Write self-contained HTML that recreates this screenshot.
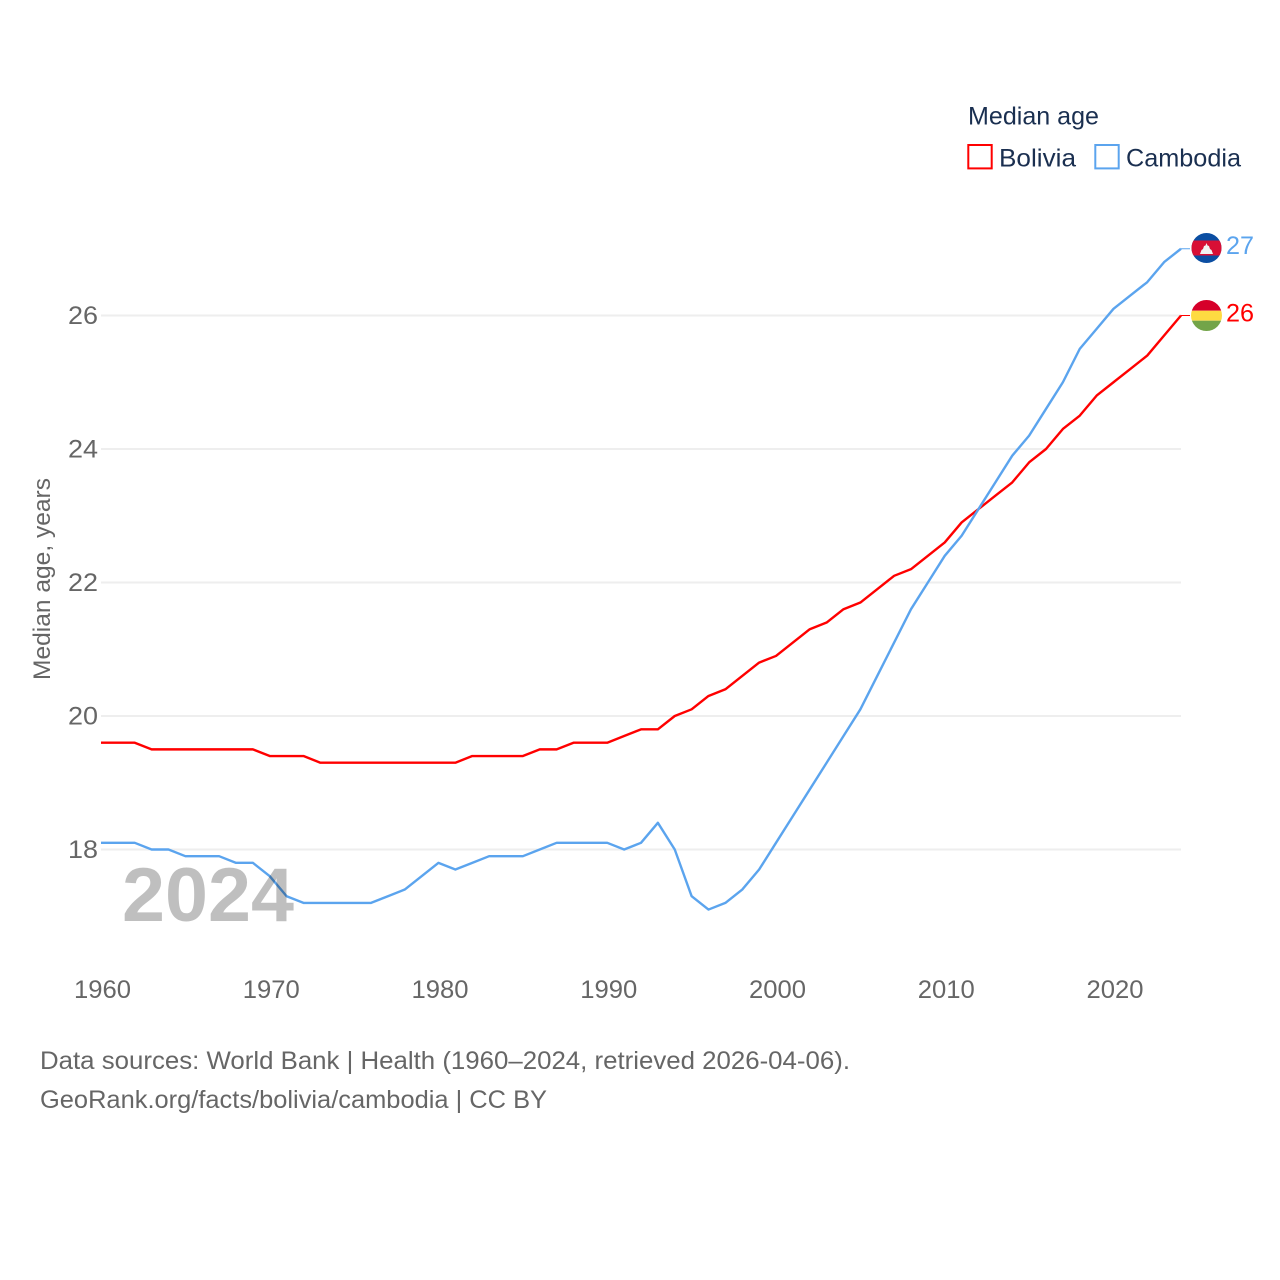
<!DOCTYPE html>
<html lang="en">
<head>
<meta charset="utf-8">
<title>Median age: Bolivia and Cambodia</title>
<style>
html,body{margin:0;padding:0;background:#fff;width:1280px;height:1280px;overflow:hidden}
svg{display:block}
text{font-family:"Liberation Sans",sans-serif}
</style>
</head>
<body>
<svg id="chart" width="1280" height="1280" viewBox="0 0 1280 1280" xmlns="http://www.w3.org/2000/svg">
  <rect x="0" y="0" width="1280" height="1280" fill="#fff"/>
  <g id="grid"></g>
  <g id="yticks"></g>
  <g id="xticks"></g>
  <text transform="translate(50,680) rotate(-90)" font-size="24" fill="#666" textLength="202" lengthAdjust="spacingAndGlyphs">Median age, years</text>
  <g id="series"></g>
  <text x="122" y="921" font-size="76" font-weight="700" fill="#000" fill-opacity="0.25" textLength="172" lengthAdjust="spacingAndGlyphs">2024</text>

  <g>
    <text x="968" y="124.500" font-size="25" fill="#1a2f50" textLength="131" lengthAdjust="spacingAndGlyphs">Median age</text>
    <rect x="968.3" y="145" width="23.4" height="23.4" fill="none" stroke="#ff0000" stroke-width="2"/>
    <text x="999" y="166.500" font-size="25" fill="#1a2f50" textLength="77" lengthAdjust="spacingAndGlyphs">Bolivia</text>
    <rect x="1095.3" y="145" width="23.4" height="23.4" fill="none" stroke="#5ba4ee" stroke-width="2"/>
    <text x="1126" y="166.500" font-size="25" fill="#1a2f50" textLength="115" lengthAdjust="spacingAndGlyphs">Cambodia</text>
  </g>

  <defs>
    <clipPath id="clip-cambodia"><circle cx="1206.5" cy="248" r="15"/></clipPath>
    <clipPath id="clip-bolivia"><circle cx="1206.5" cy="315.5" r="15.5"/></clipPath>
  </defs>

  <g clip-path="url(#clip-cambodia)">
    <rect x="1190" y="232" width="33" height="32" fill="#0b4ea2"/>
    <rect x="1190" y="240.5" width="33" height="15" fill="#d80f35"/>
    <polygon points="1200,254 1201.5,250 1203,249 1204,246 1205.5,245.500 1206.5,243 1207.5,245.500 1209,246 1210,249 1211.5,250 1213,254" fill="#f2f2f2"/>
  </g>
  <g clip-path="url(#clip-bolivia)">
    <rect x="1190" y="299" width="33" height="11.7" fill="#d6002a"/>
    <rect x="1190" y="310.7" width="33" height="10" fill="#fedb41"/>
    <rect x="1190" y="320.7" width="33" height="12" fill="#73a449"/>
  </g>

  <text x="1226" y="254" font-size="25" fill="#5ba4ee" textLength="28" lengthAdjust="spacingAndGlyphs">27</text>
  <text x="1226" y="321.500" font-size="25" fill="#ff0000" textLength="28" lengthAdjust="spacingAndGlyphs">26</text>

  <text x="40" y="1069" font-size="25" fill="#666" textLength="810" lengthAdjust="spacingAndGlyphs">Data sources: World Bank | Health (1960–2024, retrieved 2026-04-06).</text>
  <text x="40" y="1108" font-size="25" fill="#666" textLength="507" lengthAdjust="spacingAndGlyphs">GeoRank.org/facts/bolivia/cambodia | CC BY</text>
</svg>
<script>
const startYear = 1960;
const bolivia = [19.6,19.6,19.6,19.5,19.5,19.5,19.5,19.5,19.5,19.5,
  19.4,19.4,19.4,19.3,19.3,19.3,19.3,19.3,19.3,19.3,
  19.3,19.3,19.4,19.4,19.4,19.4,19.5,19.5,19.6,19.6,
  19.6,19.7,19.8,19.8,20.0,20.1,20.3,20.4,20.6,20.8,
  20.9,21.1,21.3,21.4,21.6,21.7,21.9,22.1,22.2,22.4,
  22.6,22.9,23.1,23.3,23.5,23.8,24.0,24.3,24.5,24.8,
  25.0,25.2,25.4,25.7,26.0];
const cambodia = [18.1,18.1,18.1,18.0,18.0,17.9,17.9,17.9,17.8,17.8,
  17.6,17.3,17.2,17.2,17.2,17.2,17.2,17.3,17.4,17.6,
  17.8,17.7,17.8,17.9,17.9,17.9,18.0,18.1,18.1,18.1,
  18.1,18.0,18.1,18.4,18.0,17.3,17.1,17.2,17.4,17.7,
  18.1,18.5,18.9,19.3,19.7,20.1,20.6,21.1,21.6,22.0,
  22.4,22.7,23.1,23.5,23.9,24.2,24.6,25.0,25.5,25.8,
  26.1,26.3,26.5,26.8,27.0];
const yTickValues = [18,20,22,24,26];
const xTickValues = [1960,1970,1980,1990,2000,2010,2020];

const NS = 'http://www.w3.org/2000/svg';
function xScale(year){ return 101 + (year - 1960) * 16.875; }
function yScale(v){ return 849.5 - (v - 18) * 66.75; }
function make(tag, attrs, parent){
  const el = document.createElementNS(NS, tag);
  for (const k in attrs) el.setAttribute(k, attrs[k]);
  parent.appendChild(el);
  return el;
}

const gridG = document.getElementById('grid');
const yG = document.getElementById('yticks');
const xG = document.getElementById('xticks');
const seriesG = document.getElementById('series');

yTickValues.forEach(function(v){
  const line = make('line', {x1:101, x2:1181, y1:yScale(v), y2:yScale(v), stroke:'#eeeeee', 'stroke-width':2}, gridG);
  
  
  const t = make('text', {x:98, y:yScale(v)+8.5, 'text-anchor':'end', 'font-size':25, fill:'#666', textLength:30, lengthAdjust:'spacingAndGlyphs'}, yG);
  
  
  t.textContent = String(v);
});

xTickValues.forEach(function(y){
  const t = make('text', {x:xScale(y)+1.5, y:998, 'text-anchor':'middle', 'font-size':25, fill:'#666', textLength:57, lengthAdjust:'spacingAndGlyphs'}, xG);
  
  
  t.textContent = String(y);
});

function drawSeries(values, color, name){
  const pts = values.map(function(v, i){ return xScale(startYear + i).toFixed(2) + ',' + yScale(v).toFixed(2); }).join(' ');
  const lastX = xScale(startYear + values.length - 1);
  const lastY = yScale(values[values.length - 1]);
  const lead = make('line', {x1:lastX, x2:lastX + 9, y1:lastY, y2:lastY, stroke:color, 'stroke-width':1}, seriesG);
  
  
  const line = make('polyline', {points:pts, fill:'none', stroke:color, 'stroke-width':2.4, 'stroke-linejoin':'round'}, seriesG);
  
  
}
drawSeries(bolivia, '#ff0000', 'series-line-bolivia');
drawSeries(cambodia, '#5ba4ee', 'series-line-cambodia');
</script>
</body>
</html>
